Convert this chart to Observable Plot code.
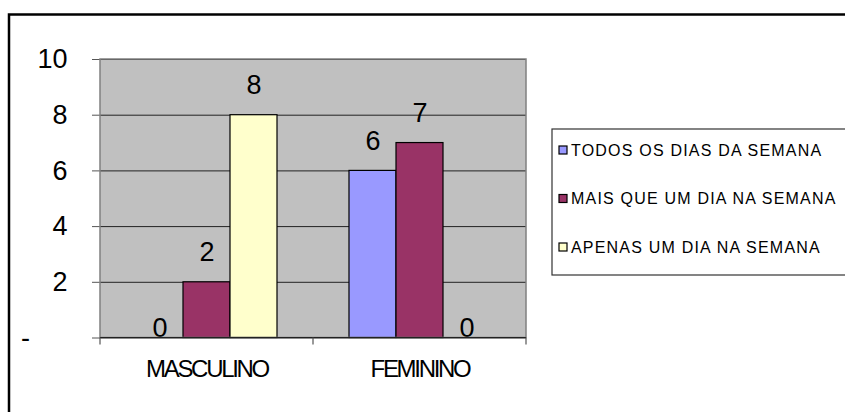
<!DOCTYPE html>
<html>
<head>
<meta charset="utf-8">
<script src="https://cdn.jsdelivr.net/npm/d3@7"></script>
<script src="https://cdn.jsdelivr.net/npm/@observablehq/plot@0.6"></script>
<style>
  html, body { margin: 0; padding: 0; background: #fff; }
  svg { display: block; }
  g[aria-label="fx-axis tick label"] text { letter-spacing: -2.3px; }
</style>
</head>
<body>
<div id="chart"></div>
<script>
// ---- data ----
const categories = ["MASCULINO", "FEMININO"];
const series = ["TODOS OS DIAS DA SEMANA", "MAIS QUE UM DIA NA SEMANA", "APENAS UM DIA NA SEMANA"];
const masculino = [0, 2, 8];
const feminino = [6, 7, 0];
const seriesColors = ["#9999ff", "#993366", "#ffffcc"];
const yTicks = [0, 2, 4, 6, 8, 10];

const valuesByCategory = [masculino, feminino];
const data = categories.flatMap((c, i) =>
  series.map((s, j) => ({ category: c, series: s, value: valuesByCategory[i][j] }))
);

const font = "'Liberation Sans', Arial, sans-serif";

const plot = Plot.plot({
  width: 845,
  height: 412,
  marginLeft: 100,
  marginRight: 319,
  marginTop: 59,
  marginBottom: 74.5,
  style: { fontFamily: font, background: "transparent", color: "#000" },
  fx: { domain: categories, padding: 0, axis: null },
  x: { domain: series, paddingInner: 0, paddingOuter: 0.75, axis: null },
  y: { domain: [0, 10], axis: null },
  color: { domain: series, range: seriesColors },
  marks: [
    Plot.gridY(yTicks, { stroke: "#222", strokeOpacity: 1, strokeWidth: 1 }),
    Plot.axisY({
      ticks: yTicks,
      tickFormat: d => d === 0 ? "-\u2007\u2007\u00a0" : String(d),
      tickSize: 8,
      tickPadding: 25,
      fontSize: 27,
      stroke: "#555",
      label: null
    }),
    Plot.axisFx({ anchor: "bottom", tickSize: 0, tickPadding: 22, fontSize: 24, label: null }),
    Plot.barY(data, { fx: "category", x: "series", y: "value", fill: "series", stroke: "#000", strokeWidth: 1.2 }),
    Plot.text(data.filter(d => d.value > 0), {
      fx: "category", x: "series", y: "value", text: d => String(d.value),
      lineAnchor: "bottom", dy: -21, fontSize: 27, fill: "#000"
    }),
    Plot.text(data.filter(d => d.value === 0), {
      fx: "category", x: "series", y: "value", text: d => String(d.value),
      lineAnchor: "bottom", dy: -1, fontSize: 27, fill: "#000"
    })
  ]
});

document.getElementById("chart").appendChild(plot);

// ---- decorations: plot-area background/outline, boundary ticks, legend, outer frame ----
const svg = d3.select(plot);
const fx = plot.scale("fx");
const y = plot.scale("y");
const x0 = fx.apply(categories[0]);
const x1 = fx.apply(categories[categories.length - 1]) + fx.bandwidth;
const yTop = y.apply(10), yBot = y.apply(0);

svg.insert("rect", ":first-child")
  .attr("x", x0).attr("y", yTop)
  .attr("width", x1 - x0).attr("height", yBot - yTop)
  .attr("fill", "#c0c0c0");

svg.append("rect")
  .attr("x", x0).attr("y", yTop)
  .attr("width", x1 - x0).attr("height", yBot - yTop)
  .attr("fill", "none").attr("stroke", "#808080").attr("stroke-width", 1.5);

svg.append("line")
  .attr("x1", x0).attr("x2", x1).attr("y1", yBot).attr("y2", yBot)
  .attr("stroke", "#222").attr("stroke-width", 1.2);

const bounds = categories.map(c => fx.apply(c)).concat([x1]);
svg.append("g").selectAll("line").data(bounds).join("line")
  .attr("x1", d => d).attr("x2", d => d)
  .attr("y1", yBot).attr("y2", yBot + 7)
  .attr("stroke", "#555").attr("stroke-width", 1.2);

// legend
const lg = svg.append("g").attr("font-family", font).attr("text-anchor", "start");
lg.append("rect")
  .attr("x", 552).attr("y", 129).attr("width", 400).attr("height", 146)
  .attr("fill", "#fff").attr("stroke", "#333").attr("stroke-width", 1.2);
const rows = lg.selectAll("g.row").data(series).join("g")
  .attr("transform", (d, i) => `translate(559, ${150 + i * 48.5})`);
rows.append("rect")
  .attr("x", 0).attr("y", -4).attr("width", 8).attr("height", 8)
  .attr("fill", (d, i) => seriesColors[i]).attr("stroke", "#000").attr("stroke-width", 1.2);
rows.append("text")
  .attr("x", 12).attr("y", 0).attr("dy", "0.36em")
  .attr("text-anchor", "start")
  .attr("font-size", 16).attr("letter-spacing", "1.2px")
  .attr("fill", "#000")
  .text(d => d);

// outer chart border (right and bottom edges fall outside the picture)
svg.append("rect")
  .attr("x", 9).attr("y", 14.5).attr("width", 900).attr("height", 450)
  .attr("fill", "none").attr("stroke", "#000").attr("stroke-width", 2.5);
</script>
</body>
</html>
